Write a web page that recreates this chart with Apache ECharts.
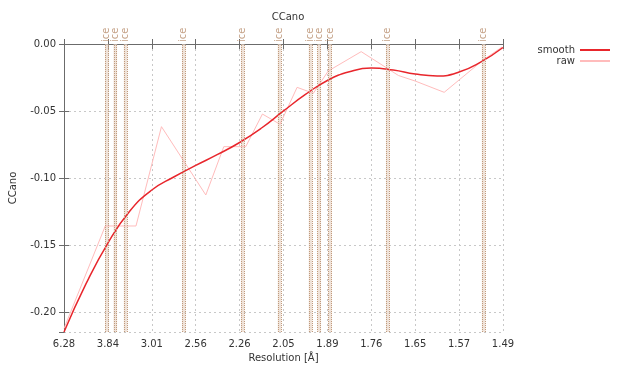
<!DOCTYPE html>
<html>
<head>
<meta charset="utf-8">
<script src="https://cdn.jsdelivr.net/npm/echarts@6/dist/echarts.min.js"></script>
<style>
  html, body { margin: 0; padding: 0; background: #fff; }
  #chart { width: 617px; height: 369px; }
</style>
</head>
<body>
<div id="chart"></div>
<script>
// Resolution tick labels (Å), evenly spaced in 1/d²
const tickLabels = ['6.28', '3.84', '3.01', '2.56', '2.26', '2.05', '1.89', '1.76', '1.65', '1.57', '1.49'];

// Positions along the resolution axis are given in tick steps (0 = 6.28 Å, 10 = 1.49 Å)
const rawX = [0.0, 0.94, 1.64, 2.22, 3.23, 3.64, 4.14, 4.52, 4.92, 5.31, 5.68, 6.02, 6.77, 7.62, 8.0, 8.66, 9.55, 9.98];
const rawY = [-0.212, -0.1356, -0.1356, -0.0616, -0.1125, -0.0765, -0.0765, -0.0522, -0.0598, -0.0323, -0.0367, -0.0201, -0.0057, -0.0235, -0.0276, -0.0360, -0.0119, -0.0022];

const smoothX = [0, 0.5, 1, 1.5, 2, 2.5, 3, 3.5, 4, 4.5, 5, 5.5, 6, 6.5, 7, 7.5, 8, 8.5, 9, 9.5, 10];
const smoothY = [-0.2146, -0.1788, -0.1483, -0.1244, -0.1088, -0.0991, -0.0905, -0.0823, -0.0734, -0.0626, -0.0499, -0.0376, -0.0272, -0.0207, -0.0179, -0.0194, -0.0224, -0.0238, -0.0209, -0.0133, -0.0026];

// Ice ring resolutions (Å)
const iceRings = [3.87, 3.65, 3.43, 2.66, 2.245, 2.067, 1.946, 1.916, 1.880, 1.718, 1.522];

const yMin = -0.2146, yMax = 0.0;

// Convert a resolution in Å to the tick-step coordinate of the x axis
const sLo = 1 / (6.28 * 6.28), sHi = 1 / (1.49 * 1.49);
function resToPos(d) { return (1 / (d * d) - sLo) / (sHi - sLo) * 10; }

const icePos = iceRings.map(resToPos);
const halfBand = 0.04;

const FONT = 'DejaVu Sans';
const frame = '#6b6b6b';

const chart = echarts.init(document.getElementById('chart'), null, { renderer: 'canvas' });

const rawData = rawX.map((x, i) => [x, rawY[i]]);
const smoothData = smoothX.map((x, i) => [x, smoothY[i]]);

const yAxisBase = {
  type: 'value', min: yMin, max: yMax,
  splitNumber: 4, minInterval: 0.05, maxInterval: 0.05
};

chart.setOption({
  animation: false,
  backgroundColor: '#ffffff',
  textStyle: { fontFamily: FONT },
  title: {
    text: 'CCano',
    left: 283, top: 7,
    textAlign: 'center',
    textStyle: { fontFamily: FONT, fontSize: 10, fontWeight: 'normal', color: '#333' }
  },
  legend: {
    orient: 'vertical',
    right: 2, top: 40,
    align: 'right',
    itemWidth: 30, itemHeight: 2, itemGap: 1,
    icon: 'rect',
    textStyle: { fontFamily: FONT, fontSize: 10, color: '#333' },
    data: ['smooth', 'raw']
  },
  grid: { left: 63, right: 114, top: 44, bottom: 37, containLabel: false },
  xAxis: [{
    type: 'value', min: 0, max: 10, interval: 1,
    position: 'bottom',
    name: 'Resolution [Å]', nameLocation: 'middle', nameGap: 20,
    nameTextStyle: { fontFamily: FONT, fontSize: 10, color: '#333' },
    axisLine: { lineStyle: { color: frame, width: 1 } },
    axisTick: { inside: true, length: 5, lineStyle: { color: frame } },
    axisLabel: { margin: 7, fontFamily: FONT, fontSize: 10, color: '#333', formatter: v => tickLabels[Math.round(v)] },
    splitLine: { show: true, lineStyle: { color: '#c8c8c8', type: [2, 3], width: 1 } }
  }, {
    type: 'value', min: 0, max: 10, interval: 1,
    position: 'top',
    axisLine: { lineStyle: { color: frame, width: 1 } },
    axisTick: { inside: true, length: 5, lineStyle: { color: frame } },
    axisLabel: { show: false },
    splitLine: { show: false }
  }],
  yAxis: [Object.assign({}, yAxisBase, {
    position: 'left',
    name: 'CCano', nameLocation: 'middle', nameGap: 46,
    nameTextStyle: { fontFamily: FONT, fontSize: 10, color: '#333' },
    axisLine: { show: true, lineStyle: { color: frame, width: 1 } },
    axisTick: { show: true, inside: true, length: 5, lineStyle: { color: frame } },
    axisLabel: { margin: 8, fontFamily: FONT, fontSize: 10, color: '#333',
      showMinLabel: false,
      formatter: v => (Math.abs(v) < 1e-9 ? '0.00' : v.toFixed(2)) },
    splitLine: { show: true, lineStyle: { color: '#c8c8c8', type: [2, 3], width: 1 } }
  }), Object.assign({}, yAxisBase, {
    position: 'right',
    axisLine: { show: true, lineStyle: { color: frame, width: 1 } },
    axisTick: { show: true, inside: true, length: 5, lineStyle: { color: frame } },
    axisLabel: { show: false },
    splitLine: { show: false }
  })],
  series: [
    {
      // Ice ring bands with dotted edges
      name: 'ice', type: 'line', data: [], silent: true,
      xAxisIndex: 0, yAxisIndex: 0,
      markArea: {
        silent: true,
        itemStyle: { color: 'rgba(230,210,195,0.65)' },
        data: icePos.map(p => [{ xAxis: p - halfBand }, { xAxis: p + halfBand }])
      },
      markLine: {
        silent: true, symbol: 'none',
        label: { show: false },
        lineStyle: { color: '#c09a7c', type: [1, 1], width: 1 },
        data: icePos.flatMap(p => [{ xAxis: p - halfBand * 0.75 }, { xAxis: p + halfBand * 0.75 }])
      }
    },
    {
      // "ice" labels above the plot frame
      name: 'iceLabel', type: 'scatter', silent: true,
      symbolSize: 0,
      data: icePos.map(p => [p, yMax]),
      label: {
        show: true, formatter: 'ice', position: 'top', distance: 2,
        rotate: 90, align: 'left', verticalAlign: 'middle',
        fontFamily: FONT, fontSize: 10, color: '#b58a68'
      },
      z: 5
    },
    {
      name: 'raw', type: 'line', data: rawData,
      symbol: 'none', smooth: false,
      lineStyle: { color: '#ffbcbc', width: 1 },
      itemStyle: { color: '#ffbcbc' },
      z: 3
    },
    {
      name: 'smooth', type: 'line', data: smoothData,
      symbol: 'none', smooth: 0.5,
      lineStyle: { color: '#e8262c', width: 1.5 },
      itemStyle: { color: '#e8262c' },
      z: 4
    }
  ]
});
</script>
</body>
</html>
